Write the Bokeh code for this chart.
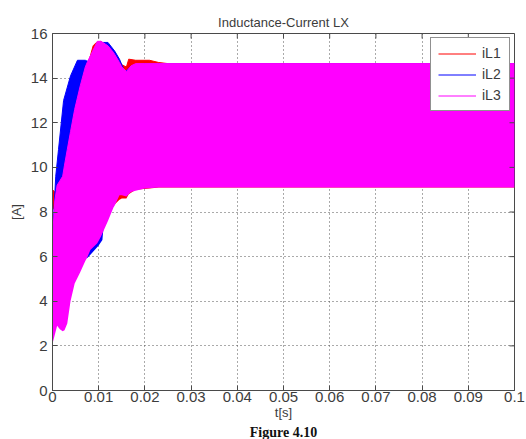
from bokeh.plotting import figure
from bokeh.models import (Range1d, FixedTicker, Legend, LegendItem, Title, ColumnDataSource)
from bokeh.embed import file_html
from bokeh.resources import INLINE

# ---------------- data (envelopes of the fast-switching currents) ----------------
t_il1 = [0, 0.0005, 0.001, 0.0016, 0.0022, 0.0032, 0.0039, 0.0048, 0.006, 0.0071, 0.0082,
         0.0088, 0.0095, 0.0105, 0.012, 0.013, 0.0145, 0.015, 0.016, 0.0165, 0.018, 0.021,
         0.023, 0.025, 0.1]
hi_il1 = [9.0, 8.9, 9.0, 9.2, 9.4, 10.5, 11.3, 12.3, 13.4, 14.3, 15.0,
          15.45, 15.6, 15.65, 15.4, 15.2, 14.75, 14.6, 14.5, 14.85, 14.8, 14.8,
          14.7, 14.65, 14.65]
lo_il1 = [8.2, 8.0, 7.5, 6.0, 5.0, 3.3, 4.2, 5.0, 5.5, 6.0, 6.5,
          6.7, 6.85, 7.1, 7.8, 8.25, 8.55, 8.6, 8.6, 8.8, 9.0, 9.05,
          9.1, 9.1, 9.1]

t_il2 = [0, 0.0003, 0.0007, 0.0013, 0.0024, 0.0039, 0.0054, 0.0071, 0.0076, 0.0085,
         0.0100, 0.0108, 0.011, 0.012, 0.0135, 0.0145, 0.0154, 0.0158, 0.017, 0.02, 0.1]
hi_il2 = [7.0, 8.0, 9.6, 10.8, 13.0, 14.1, 14.8, 14.8, 14.75, 15.0,
          15.4, 15.6, 15.6, 15.6, 15.2, 14.85, 14.4, 14.3, 14.55, 14.65, 14.65]
lo_il2 = [6.0, 5.5, 5.0, 4.5, 4.0, 4.3, 5.3, 5.9, 5.95, 6.15,
          6.5, 6.75, 7.2, 7.8, 8.45, 8.9, 8.95, 8.95, 9.05, 9.15, 9.15]

t_il3 = [0, 0.0005, 0.001, 0.0016, 0.0022, 0.0026, 0.0032, 0.0039, 0.0048, 0.006,
         0.0071, 0.0076, 0.0082, 0.0097, 0.0105, 0.012, 0.0132, 0.0135, 0.0145, 0.015,
         0.016, 0.017, 0.018, 0.02, 0.023, 0.1]
hi_il3 = [6.8, 8.5, 9.2, 9.4, 9.6, 10.1, 10.8, 11.6, 12.6, 13.65,
          14.5, 14.75, 15.0, 15.65, 15.65, 15.45, 15.15, 15.05, 14.7, 14.5,
          14.3, 14.55, 14.65, 14.65, 14.65, 14.65]
lo_il3 = [2.1, 2.5, 2.9, 2.75, 2.65, 2.7, 3.0, 4.0, 4.8, 5.3,
          5.8, 6.0, 6.3, 6.6, 6.9, 7.6, 8.2, 8.3, 8.75, 8.75,
          8.7, 8.9, 8.95, 9.05, 9.1, 9.1]

series_names = ["iL1", "iL2", "iL3"]
series_colors = ["#ff0000", "#0000ff", "#ff00ff"]

x_ticks = [0, 0.01, 0.02, 0.03, 0.04, 0.05, 0.06, 0.07, 0.08, 0.09, 0.1]
x_tick_labels = ["0", "0.01", "0.02", "0.03", "0.04", "0.05", "0.06", "0.07", "0.08", "0.09", "0.1"]
y_ticks = [0, 2, 4, 6, 8, 10, 12, 14, 16]
y_tick_labels = ["0", "2", "4", "6", "8", "10", "12", "14", "16"]

title_text = "Inductance-Current LX"
x_label = "t[s]"
y_label = "[A]"
caption = "Figure 4.10"

# ---------------- figure ----------------
FONT = "Liberation Sans"
TXT = "#3c3c3c"
AX = "#4a4a4a"
W, H = 526, 439
TICK = 5
X0, X1, Y0, Y1 = 0, 0.1, 0, 16

p = figure(width=W, height=H, output_backend="svg", toolbar_location=None,
           x_range=Range1d(X0, X1), y_range=Range1d(Y0, Y1),
           min_border_left=52, min_border_right=12, min_border_top=33, min_border_bottom=10)
p.background_fill_color = "white"
p.border_fill_color = "white"
p.outline_line_color = AX
p.outline_line_width = 1

p.title.text = title_text
p.title.align = "center"
p.title.text_font = FONT
p.title.text_font_size = "13px"
p.title.text_font_style = "normal"
p.title.text_color = TXT
p.title.standoff = 8

envs = [(t_il1, hi_il1, lo_il1), (t_il2, hi_il2, lo_il2), (t_il3, hi_il3, lo_il3)]
line_renderers = []
for (tt, hi, lo), name, col in zip(envs, series_names, series_colors):
    src = ColumnDataSource(dict(t=tt, hi=hi, lo=lo))
    p.varea(x="t", y1="lo", y2="hi", source=src, fill_color=col, fill_alpha=1.0)
    r = p.line(x="t", y="hi", source=src, line_color=col, line_width=1)
    line_renderers.append(r)

# axes (MATLAB style: ticks pointing inward)
for ax in (p.xaxis[0], p.yaxis[0]):
    ax.major_tick_in = TICK
    ax.major_tick_out = 0
    ax.minor_tick_line_color = None
    ax.axis_line_color = AX
    ax.major_tick_line_color = AX
    ax.major_label_text_font = FONT
    ax.major_label_text_font_size = "15px"
    ax.major_label_text_color = TXT
    ax.axis_label_text_font = FONT
    ax.axis_label_text_font_size = "13px"
    ax.axis_label_text_font_style = "normal"
    ax.axis_label_text_color = TXT

p.xaxis.ticker = FixedTicker(ticks=x_ticks)
p.xaxis.major_label_overrides = dict(zip(x_ticks, x_tick_labels))
p.xaxis.major_label_standoff = 1
p.xaxis.axis_label = x_label
p.xaxis.axis_label_standoff = 0
p.yaxis.ticker = FixedTicker(ticks=y_ticks)
p.yaxis.major_label_overrides = dict(zip(y_ticks, y_tick_labels))
p.yaxis.major_label_standoff = 5
p.yaxis.axis_label = y_label
p.yaxis.axis_label_standoff = 4

# inward ticks on the top and right edges of the box (computed from the tick lists)
frame_w = W - 52 - 12
frame_h_est = 358
dy = TICK * (Y1 - Y0) / frame_h_est
dx = TICK * (X1 - X0) / frame_w
p.segment(x0=x_ticks, y0=[Y1] * len(x_ticks), x1=x_ticks, y1=[Y1 - dy] * len(x_ticks),
          line_color=AX, line_width=1)
p.segment(x0=[X1] * len(y_ticks), y0=y_ticks, x1=[X1 - dx] * len(y_ticks), y1=y_ticks,
          line_color=AX, line_width=1)

# caption of the source figure, below the chart
p.add_layout(Title(text=caption, align="center", offset=12, text_font="Liberation Serif",
                   text_font_style="bold", text_font_size="14px", text_color="#111111",
                   standoff=0), "below")

# grid
for g in (p.xgrid[0], p.ygrid[0]):
    g.grid_line_color = "#555555"
    g.grid_line_dash = "1 3"
    g.grid_line_width = 1
p.xgrid.ticker = FixedTicker(ticks=x_ticks)
p.ygrid.ticker = FixedTicker(ticks=y_ticks)

legend = Legend(items=[LegendItem(label=n, renderers=[r]) for n, r in zip(series_names, line_renderers)],
                location="top_right")
legend.label_text_font = FONT
legend.label_text_font_size = "14px"
legend.label_text_color = TXT
legend.glyph_width = 38
legend.glyph_height = 15
legend.label_standoff = 6
legend.label_height = 15
legend.padding = 7
legend.spacing = 5
legend.margin = 4
legend.border_line_color = "#222222"
legend.border_line_width = 1
legend.background_fill_alpha = 1.0
p.add_layout(legend)

open("out.html", "w").write(file_html(p, INLINE))
